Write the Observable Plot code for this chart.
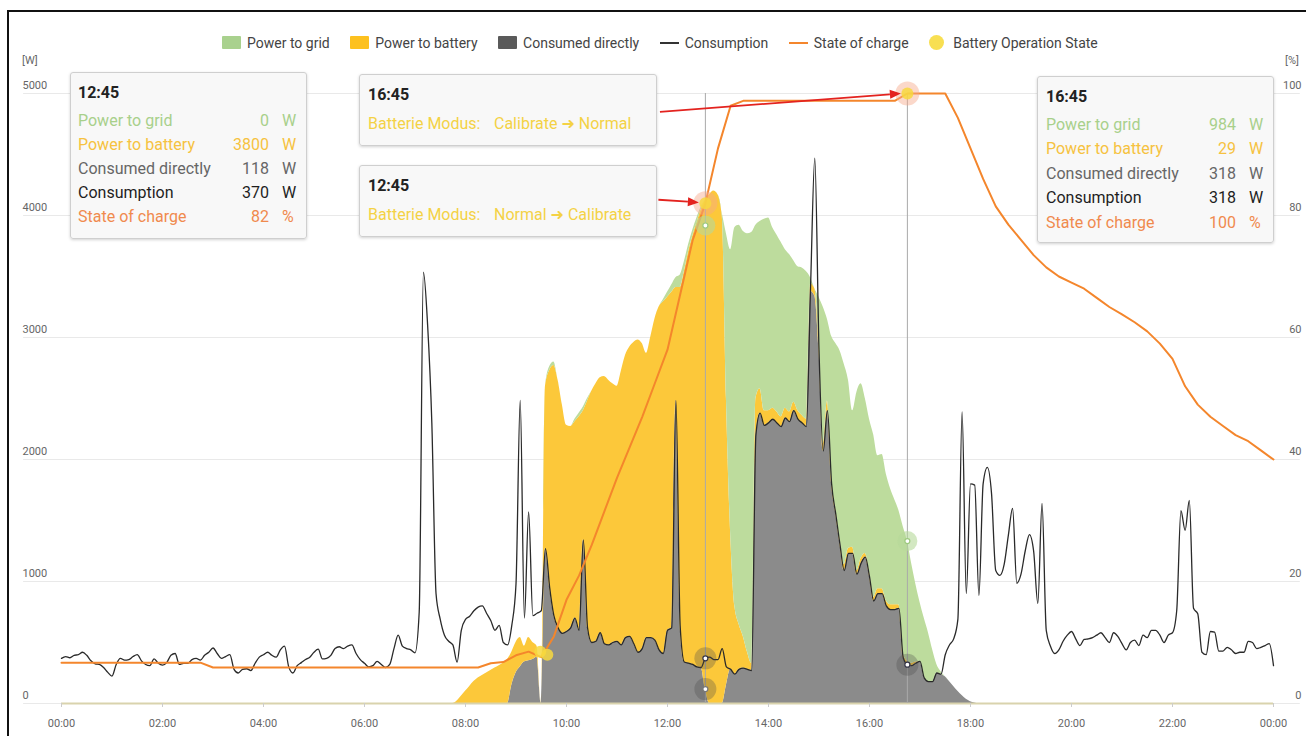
<!DOCTYPE html>
<html>
<head>
<meta charset="utf-8">
<script src="https://cdn.jsdelivr.net/npm/d3@7"></script>
<script src="https://cdn.jsdelivr.net/npm/@observablehq/plot@0.6"></script>
<style>
  html, body { margin: 0; padding: 0; background: #fff; }
  body { font-family: Roboto, "Noto Sans", "DejaVu Sans", sans-serif; }
  #wrap { position: relative; width: 1306px; height: 736px; overflow: hidden; background: #fff; }
  #chart { position: absolute; left: 0; top: 0; }
  #frame { position: absolute; left: 7px; top: 10px; width: 1310px; height: 740px;
           border-top: 2px solid #111; border-left: 2px solid #111; pointer-events: none; }
  #legend { position: absolute; left: 222px; top: 34px; height: 17px; display: flex; align-items: center;
            font-size: 14px; color: #444; white-space: nowrap; }
  .li { display: flex; align-items: center; margin-right: 20.5px; }
  .sw { width: 19px; height: 13px; margin-right: 6px; border-radius: 1px; }
  .ln { width: 19px; height: 2px; margin-right: 6px; }
  .ci { width: 15px; height: 15px; border-radius: 50%; margin-right: 9px; }
  .unitlbl { position: absolute; font-size: 11px; color: #666; }
  .tip { position: absolute; background: rgba(248,248,248,0.97); border: 1px solid #cfcfcf; border-radius: 3px;
         box-shadow: 0 1px 3px rgba(0,0,0,0.18); box-sizing: border-box; font-size: 16px; }
  .tt { position: absolute; top: 8px; height: 24px; line-height: 24px; font-weight: bold; color: #222; }
  .row { position: absolute; height: 24px; line-height: 24px; white-space: nowrap; }
</style>
</head>
<body>
<div id="wrap">
  <div id="chart"></div>
  <div id="legend"></div>
  <div class="unitlbl" style="left:22px; top:54px;">[W]</div>
  <div class="unitlbl" style="left:1285px; top:54px;">[%]</div>
  <div id="tips"></div>
  <div id="frame"></div>
</div>
<script>
// ---------------- DATA ----------------
// Consumption [W], 5-minute steps from 00:00 to 24:00 (289 values)
const consumption = [
  370,385,375,395,400,420,395,350,325,320,295,255,
  225,320,370,355,360,385,400,350,320,310,365,330,
  315,335,395,410,320,330,330,360,370,355,395,420,
  455,410,370,385,400,280,250,280,285,270,330,380,
  400,420,395,380,440,470,300,250,310,335,360,380,
  420,445,365,370,395,450,465,450,470,480,410,360,
  330,300,310,345,320,295,320,450,560,470,450,440,
  415,750,3535,3100,2300,900,690,560,510,480,340,600,
  690,715,760,790,800,740,680,600,640,500,480,640,
  980,2485,700,1570,720,740,760,1270,950,720,620,575,
  590,620,700,600,1340,620,500,510,580,490,480,500,
  510,480,540,550,490,420,450,540,540,520,440,410,
  600,620,2485,640,340,330,320,300,295,370,380,360,
  360,450,300,280,240,280,290,280,270,2200,2380,2280,
  2300,2330,2300,2270,2340,2310,2400,2330,2300,2270,3420,4470,
  2900,2070,2400,1800,1550,1300,1090,1230,1230,1060,1150,1200,
  1040,840,900,900,800,770,770,780,377,318,310,330,
  345,210,180,180,250,240,400,480,530,690,2390,900,
  1800,1790,885,1800,1935,1720,1090,1050,1140,1380,1600,985,
  1060,1250,1385,1250,820,1640,600,470,410,440,510,560,
  590,530,475,525,530,540,560,580,540,500,580,550,
  490,440,500,520,475,560,540,600,600,560,500,560,
  580,760,1580,1420,1665,780,735,420,400,590,585,430,
  430,460,440,410,420,420,510,500,450,460,475,490,310
];

// Stacked PV areas [W], 5-minute steps from 07:30 (step 90) to 18:30 (step 222)
const AREA_START_STEP = 90;
const consumedDirectly = [
  0,0,0,0,0,0,0,0,0,0,0,0,0,0,0,0,
  0,150,250,300,340,350,360,380,
  0,
  1270,950,720,620,575,590,620,700,600,1340,620,500,
  510,580,490,480,500,510,480,540,550,490,420,450,
  540,540,520,440,410,600,620,2485,640,340,330,320,300,295,
  118,0,0,0,0,150,280,240,280,290,280,270,
  2200,2380,2280,2300,2330,2300,2270,2340,2310,2400,2330,2300,2270,
  3380,3340,2900,2070,2400,1800,1550,1300,1090,1230,1230,1060,
  1150,1200,1040,840,900,900,800,770,770,780,377,318,
  310,330,345,210,180,180,250,240,220,180,140,100,
  65,35,15,5,0,0,0,0,0
];
const powerToBattery = [
  0,0,0,0,
  20,60,100,140,180,210,230,250,270,290,310,330,
  360,270,250,240,130,190,140,90,
  0,
  1330,1780,2050,2030,1875,1690,1650,1610,1750,1060,1860,2060,
  2110,2090,2190,2170,2120,2090,2240,2310,2370,2470,2560,2500,
  2330,2460,2630,2810,2880,2730,2750,925,2770,3200,3370,3510,3640,3755,
  4010,4170,4200,4170,4000,2350,1120,560,370,260,140,60,
  300,200,120,100,90,90,80,80,80,70,70,60,60,
  60,60,80,60,80,50,40,40,50,40,50,30,
  40,30,40,30,40,40,40,40,40,30,30,29,
  20,10,0,0,0,0,0,0,0,0,0,0,
  0,0,0,0,0,0,0,0,0
];
const powerToGrid = [
  0,0,0,0,0,0,0,0,0,0,0,0,0,0,0,0,0,0,0,0,0,0,0,0,0,0,
  30,30,0,0,0,0,20,30,30,20,0,0,
  0,0,0,0,0,0,0,0,0,0,0,0,0,0,0,
  20,40,60,80,100,80,60,50,40,20,0,0,0,0,20,
  1350,2320,3100,3270,3320,3430,3530,1420,1370,1570,1580,1480,
  1450,1430,1300,1290,1160,1180,1210,1210,50,0,350,1120,
  670,1160,1360,1550,1640,1380,1120,1460,1430,1270,1250,1330,
  1090,1100,1040,950,860,770,1043,984,820,640,485,490,
  400,260,70,20,0,0,0,0,
  0,0,0,0,0,0,0,0,0
];

// State of charge [%], 15-minute steps from 00:00 to 24:00 (97 values)
const stateOfCharge = [
  6.7,6.7,6.7,6.7,6.7,6.7,6.7,6.7,6.7,6.7,6.7,6.7,
  5.9,5.9,5.9,5.9,5.9,5.9,5.9,5.9,5.9,5.9,5.9,5.9,5.9,5.9,5.9,5.9,5.9,5.9,5.9,5.9,5.9,5.9,
  6.6,6.8,7.9,8.5,7.6,11,17,21,26,31.5,37,42,47,52.5,58,67,76,82,91,98,
  98.8,98.8,98.8,98.8,98.8,98.8,98.8,98.8,98.8,98.8,98.8,98.8,98.8,
  100,100,100,100,96,91,86,81.5,78.5,76,73.5,71.5,70,69,68,66.5,65,63.8,62.5,61,59,56.5,52,49,47,45.5,44,43,41.5,40
];

// Battery operation state changes (hour, SoC %)
const batteryStateHours = [9.48, 9.62, 12.75, 16.75];
const batteryStateSoc = [8.5, 8, 82, 100];

// Tooltips
const seriesNames = ["Consumed directly", "Power to battery", "Power to grid"];
const seriesColors = ["#8b8b8b", "#fcc83a", "#bddc9d"];
const tipRowLabels = ["Power to grid", "Power to battery", "Consumed directly", "Consumption", "State of charge"];
const tipRowUnits = ["W", "W", "W", "W", "%"];
const tipRowColors = ["#a8d08b", "#f6c240", "#666666", "#1e1e1e", "#f08a4e"];
const tipTimes = ["12:45", "16:45"];
const tipHours = [12.75, 16.75];
const tipValues = [[0, 3800, 118, 370, 82], [984, 29, 318, 318, 100]];
const modeTipTimes = ["16:45", "12:45"];
const modeTipLabel = "Batterie Modus:";
const modeTipTexts = ["Calibrate \u279C Normal", "Normal \u279C Calibrate"];
// arrow annotations: start anchor at tooltip (hour, W), end at data point (hour, SoC %)
const arrowStartHour = [11.86, 11.83];
const arrowStartW = [4845, 4125];
const arrowEndHour = [16.75, 12.75];
const arrowEndSoc = [100, 82];

// Axes
const xTicks = [0, 2, 4, 6, 8, 10, 12, 14, 16, 18, 20, 22, 24];
const yTicks = [0, 1000, 2000, 3000, 4000, 5000];
const SOC_TO_W = 50; // 100 % shares the 5000 W line
const GRID_X = [-0.75, 24.53];

// ---------------- BUILD ----------------
const consRows = consumption.map((v, i) => ({t: i / 12, v}));
const socRows = stateOfCharge.map((v, k) => ({t: k / 4, v}));
const areaRows = [];
[consumedDirectly, powerToBattery, powerToGrid].forEach((arr, si) => {
  arr.forEach((v, i) => areaRows.push({t: (AREA_START_STEP + i) / 12, s: seriesNames[si], v}));
});
const stateRows = batteryStateHours.map((t, i) => ({t, v: batteryStateSoc[i] * SOC_TO_W}));

// hover halos built from tooltip values
const darkHalos = [], greenHalos = [], socHalos = [], smallDots = [];
tipValues.forEach((vals, i) => {
  const t = tipHours[i];
  const [grid, batt, direct, cons, soc] = vals;
  darkHalos.push({t, v: direct});
  if (cons !== direct) darkHalos.push({t, v: cons});
  greenHalos.push({t, v: direct + batt + grid});
  socHalos.push({t, v: soc * SOC_TO_W});
  smallDots.push({t, v: direct, c: "#777"});
  smallDots.push({t, v: cons, c: "#334"});
  smallDots.push({t, v: direct + batt + grid, c: "#9cc97e"});
});

const fmtHour = h => String(h % 24).padStart(2, "0") + ":00";

const chart = Plot.plot({
  width: 1306, height: 736,
  marginTop: 93, marginBottom: 33, marginLeft: 61, marginRight: 33,
  style: "font-family: Roboto, 'Noto Sans', sans-serif; font-size: 11px; background: transparent; overflow: visible;",
  x: {domain: [0, 24]},
  y: {domain: [0, 5000]},
  color: {domain: seriesNames, range: seriesColors},
  marks: [
    Plot.ruleY(yTicks, {x1: GRID_X[0], x2: GRID_X[1], stroke: "#e9e9e9", strokeWidth: 1}),
    Plot.areaY(areaRows, {x: "t", y: "v", fill: "s", order: seriesNames, curve: "monotone-x"}),
    Plot.ruleY([0], {x1: 0, x2: 24, stroke: "#d9d3ad", strokeWidth: 2}),
    Plot.ruleX(tipHours, {y1: 0, y2: 5000, stroke: "#a9a9a9", strokeWidth: 1}),
    Plot.line(consRows, {x: "t", y: "v", stroke: "#2a2a2a", strokeWidth: 1.3, curve: "monotone-x"}),
    Plot.line(socRows, {x: "t", y: d => d.v * SOC_TO_W, stroke: "#f4862c", strokeWidth: 2}),
    Plot.dot(darkHalos, {x: "t", y: "v", r: 11, fill: "#4a4a4a", fillOpacity: 0.3}),
    Plot.dot(greenHalos, {x: "t", y: "v", r: 10, fill: "#b5d99a", fillOpacity: 0.6}),
    Plot.dot(socHalos, {x: "t", y: "v", r: 12, fill: "#f6a98a", fillOpacity: 0.45}),
    Plot.dot(smallDots, {x: "t", y: "v", r: 2.5, fill: "#fff", stroke: "c", strokeWidth: 1.2}),
    Plot.dot(stateRows, {x: "t", y: "v", r: 6, fill: "#f7d83e", fillOpacity: 0.85}),
    Plot.axisX({ticks: xTicks, tickFormat: fmtHour, tickSize: 4, tickPadding: 12, stroke: "#cccccc", fill: "#666", label: null}),
    Plot.axisY({anchor: "left", ticks: yTicks, tickFormat: d => String(d), tickSize: 0, tickPadding: 0, textAnchor: "start", dx: -39, dy: -8, fill: "#666", label: null}),
    Plot.axisY({anchor: "right", ticks: yTicks, tickFormat: d => String(d / SOC_TO_W), tickSize: 0, tickPadding: 0, textAnchor: "end", dx: 28, dy: -8, fill: "#666", label: null})
  ]
});
document.getElementById("chart").appendChild(chart);

// red arrows drawn through the plot's own scales
const sx = chart.scale("x"), sy = chart.scale("y");
const svg = d3.select(chart);
const g = svg.append("g");
arrowStartHour.forEach((h, i) => {
  const x1 = sx.apply(h), y1 = sy.apply(arrowStartW[i]);
  const xe = sx.apply(arrowEndHour[i]), ye = sy.apply(arrowEndSoc[i] * SOC_TO_W);
  const ang = Math.atan2(ye - y1, xe - x1);
  const inset = 6;
  const x2 = xe - inset * Math.cos(ang), y2 = ye - inset * Math.sin(ang);
  const hl = 11, hw = 4.5;
  const bx = x2 - hl * Math.cos(ang), by = y2 - hl * Math.sin(ang);
  g.append("line").attr("x1", x1).attr("y1", y1).attr("x2", bx).attr("y2", by)
    .attr("stroke", "#e3231f").attr("stroke-width", 1.8);
  g.append("polygon").attr("fill", "#e3231f").attr("points", [
    [x2, y2],
    [bx - hw * Math.sin(ang), by + hw * Math.cos(ang)],
    [bx + hw * Math.sin(ang), by - hw * Math.cos(ang)]
  ].map(p => p.join(",")).join(" "));
});

// legend
const legend = document.getElementById("legend");
const legendItems = [
  {type: "sw", color: "#a9d18e", label: "Power to grid"},
  {type: "sw", color: "#fdc11f", label: "Power to battery"},
  {type: "sw", color: "#5a5a5a", label: "Consumed directly"},
  {type: "ln", color: "#333", label: "Consumption"},
  {type: "ln", color: "#f4862c", label: "State of charge"},
  {type: "ci", color: "#f8df52", label: "Battery Operation State"}
];
legendItems.forEach(it => {
  const d = document.createElement("div");
  d.className = "li";
  d.innerHTML = `<div class="${it.type}" style="background:${it.color}"></div><span>${it.label}</span>`;
  legend.appendChild(d);
});

// tooltips
const tips = document.getElementById("tips");
const valueBoxes = [{left: 70, top: 72, w: 237, h: 167, pad: 8, step: 24.2}, {left: 1037, top: 76, w: 237, h: 167, pad: 9, step: 24.5}];
valueBoxes.forEach((b, i) => {
  let html = `<div class="tip" style="left:${b.left}px;top:${b.top}px;width:${b.w}px;height:${b.h}px">`;
  html += `<div class="tt" style="left:${b.pad - 1}px">${tipTimes[i]}</div>`;
  tipRowLabels.forEach((lab, r) => {
    const top = 35.5 + r * b.step;
    const col = tipRowColors[r];
    html += `<div class="row" style="top:${top}px;left:${b.pad - 1}px;color:${col}">${lab}</div>`;
    html += `<div class="row" style="top:${top}px;right:${b.w - 200}px;color:${col};text-align:right">${tipValues[i][r]}</div>`;
    html += `<div class="row" style="top:${top}px;left:211px;color:${col}">${tipRowUnits[r]}</div>`;
  });
  html += `</div>`;
  tips.insertAdjacentHTML("beforeend", html);
});
const modeBoxes = [{left: 359, top: 74, w: 298, h: 72}, {left: 359, top: 165, w: 298, h: 72}];
modeBoxes.forEach((b, i) => {
  let html = `<div class="tip" style="left:${b.left}px;top:${b.top}px;width:${b.w}px;height:${b.h}px">`;
  html += `<div class="tt" style="left:8px">${modeTipTimes[i]}</div>`;
  html += `<div class="row" style="top:37px;left:8px;color:#f4d245">${modeTipLabel}</div>`;
  html += `<div class="row" style="top:37px;left:134px;color:#f4d245">${modeTipTexts[i]}</div>`;
  html += `</div>`;
  tips.insertAdjacentHTML("beforeend", html);
});
</script>
</body>
</html>
